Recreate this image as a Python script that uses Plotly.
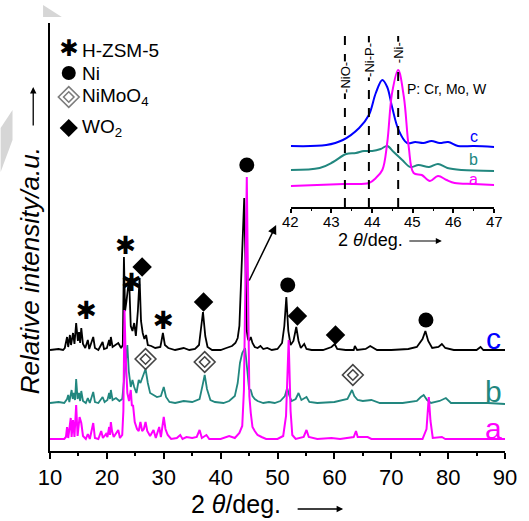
import plotly.graph_objects as go

# ---------------- main pattern data (2theta, offset intensity) ----------------
c_x = [10.0, 11.5, 12.3, 12.6, 13.0, 13.2, 13.5, 13.7, 14.05, 14.3, 14.6, 14.9, 15.1, 15.3, 15.5, 15.8, 16.2, 16.65, 16.9, 17.6, 17.9, 18.5, 19.25, 19.5, 20.0, 20.4, 20.55, 20.7, 21.0, 21.5, 22.0, 22.5, 22.8, 23.0, 23.2, 23.45, 23.9, 24.2, 24.5, 24.8, 25.1, 25.45, 25.75, 26.0, 26.3, 26.6, 26.9, 27.2, 27.8, 28.5, 29.4, 29.6, 29.85, 30.2, 30.8, 32.0, 33.5, 34.5, 35.5, 36.2, 36.5, 36.9, 37.3, 37.7, 38.5, 40.0, 41.0, 42.0, 42.6, 43.0, 43.3, 43.56, 43.85, 44.15, 44.4, 44.6, 44.8, 45.0, 45.3, 45.6, 46.0, 46.5, 47.0, 47.5, 48.2, 49.0, 50.0, 50.8, 51.2, 51.55, 51.9, 52.3, 52.8, 53.3, 53.7, 54.1, 54.7, 55.1, 56.0, 58.0, 59.5, 60.05, 60.5, 62.0, 63.4, 63.6, 64.0, 65.5, 66.3, 66.8, 67.5, 70.0, 73.0, 74.5, 75.5, 76.0, 76.5, 77.2, 78.3, 78.9, 79.5, 81.0, 85.0, 85.7, 86.2, 88.0, 90.0]
c_y = [101, 102, 101, 103, 114, 104, 116, 106, 118, 107, 128, 110, 119, 108, 123, 107, 103, 111, 102, 114, 103, 101, 109, 102, 103, 111, 105, 114, 104, 106, 108, 103, 106, 194, 140, 150, 173, 125, 120, 128, 115, 140, 173, 130, 118, 112, 116, 106, 105, 103, 104, 110, 118, 106, 103, 101, 103, 101, 102, 106, 118, 139, 115, 104, 101, 101, 103, 105, 108, 113, 125, 158, 208, 253, 170, 120, 112, 110, 114, 108, 104, 103, 105, 102, 103, 101, 102, 108, 125, 154, 120, 106, 110, 124, 110, 103, 107, 102, 101, 101, 104, 107, 102, 101, 101, 105, 101, 102, 105, 103, 101, 101, 102, 104, 112, 120, 110, 103, 104, 107, 103, 101, 101, 104, 101, 101, 101]

b_x = [10.0, 11.5, 12.5, 13.0, 13.2, 13.4, 13.8, 14.0, 14.2, 14.4, 14.6, 14.85, 15.1, 15.3, 15.5, 15.8, 16.3, 16.65, 17.0, 17.6, 17.9, 18.5, 19.25, 19.6, 20.1, 20.4, 20.55, 20.7, 21.0, 21.6, 22.2, 22.7, 23.0, 23.3, 23.6, 23.85, 24.2, 24.5, 24.8, 25.2, 25.6, 25.9, 26.3, 26.8, 27.2, 27.6, 28.2, 28.8, 29.5, 30.0, 30.4, 31.0, 32.0, 33.5, 35.0, 36.3, 36.8, 37.2, 37.6, 38.2, 39.0, 40.5, 41.5, 42.5, 43.0, 43.4, 43.8, 44.3, 44.7, 45.0, 45.3, 45.6, 46.0, 46.5, 47.5, 48.5, 49.5, 50.5, 51.3, 51.7, 52.1, 52.5, 53.2, 53.7, 54.2, 55.1, 55.6, 57.0, 60.0, 62.3, 63.1, 63.5, 64.1, 65.0, 66.5, 68.0, 72.0, 74.5, 75.2, 75.7, 76.3, 77.0, 78.5, 79.6, 80.5, 84.0, 87.0, 90.0]
b_y = [48, 49, 48, 52, 56, 49, 61, 52, 58, 51, 72, 52, 58, 50, 60, 50, 48, 53, 48, 59, 49, 48, 54, 49, 51, 58, 52, 61, 51, 53, 50, 52, 70, 90, 106, 80, 64, 71, 64, 58, 71, 68, 74, 82, 68, 58, 56, 54, 55, 64, 54, 49, 48, 50, 49, 52, 65, 76, 62, 51, 49, 48, 50, 55, 68, 88, 98, 103, 80, 62, 61, 55, 52, 50, 48, 49, 48, 50, 55, 63, 55, 50, 52, 58, 51, 54, 49, 48, 49, 52, 61, 55, 51, 50, 51, 48, 48, 50, 54, 56, 51, 48, 50, 53, 48, 48, 48, 47]

a_x = [10.0, 12.5, 12.8, 13.0, 13.2, 13.65, 13.8, 14.05, 14.3, 14.6, 14.85, 15.2, 15.5, 15.8, 16.3, 16.65, 17.0, 17.6, 17.9, 18.5, 19.0, 19.3, 19.85, 20.1, 20.4, 20.55, 20.7, 20.9, 21.2, 22.0, 22.3, 22.7, 22.9, 23.1, 23.3, 23.6, 23.9, 24.2, 24.4, 24.6, 24.9, 25.3, 25.6, 25.9, 26.2, 26.5, 26.8, 27.1, 27.6, 28.2, 28.6, 29.2, 29.5, 30.0, 30.3, 30.7, 31.3, 32.3, 32.9, 33.3, 34.0, 35.0, 35.8, 36.3, 36.7, 37.5, 38.0, 40.0, 41.5, 42.5, 43.3, 43.8, 44.1, 44.35, 44.6, 44.85, 45.05, 45.3, 45.6, 46.0, 46.5, 47.2, 48.0, 50.0, 51.0, 51.5, 51.96, 52.3, 52.6, 53.2, 54.6, 55.1, 55.5, 57.0, 59.5, 61.0, 63.4, 63.8, 64.1, 65.85, 66.5, 70.0, 75.5, 76.2, 76.6, 76.9, 77.3, 78.9, 79.5, 90.0]
a_y = [12, 12, 14, 24, 13, 33, 14, 31, 14, 46, 15, 34, 28, 15, 12, 17, 12, 28, 13, 12, 20, 13, 17, 14, 24, 16, 29, 20, 14, 21, 13, 16, 40, 141, 95, 58, 50, 61, 45, 46, 29, 22, 20, 29, 20, 22, 29, 20, 15, 21, 13, 24, 14, 34, 22, 16, 12, 13, 16, 12, 14, 13, 14, 21, 13, 16, 12, 12, 15, 13, 18, 25, 61, 180, 274, 150, 55, 38, 24, 20, 16, 14, 12, 12, 15, 35, 111, 40, 16, 12, 14, 21, 14, 12, 13, 12, 14, 20, 14, 14, 12, 12, 12, 22, 54, 30, 13, 14, 12, 12]

# ---------------- inset data (42-47 deg) ----------------
ic_x = [42.0, 42.87, 43.28, 43.68, 43.92, 44.09, 44.25, 44.37, 44.49, 44.65, 44.86, 45.06, 45.26, 45.46, 45.66, 45.87, 46.11, 46.5, 47.0]
ic_y = [61, 62, 67, 79, 92, 114, 127, 120, 100, 77, 64, 65, 64, 66, 64, 65, 61, 61, 60]
ib_x = [42.0, 42.71, 43.04, 43.36, 43.6, 43.8, 44.0, 44.21, 44.37, 44.53, 44.74, 44.94, 45.14, 45.4, 45.62, 45.85, 46.2, 47.0]
ib_y = [37, 39, 45, 53, 54, 56, 56, 58, 61, 55, 47, 40, 42, 40, 43, 39, 37, 36]
ia_x = [42.0, 43.3, 43.92, 44.09, 44.25, 44.37, 44.49, 44.64, 44.78, 44.9, 45.02, 45.22, 45.42, 45.62, 45.83, 46.03, 46.5, 47.0]
ia_y = [21, 23, 24, 29, 37, 64, 114, 137, 110, 60, 34, 32, 26, 31, 27, 24, 23, 22]
inset_ticks = [42, 43, 44, 45, 46, 47]

ref_x = [43.33, 43.92, 44.64]
ref_names = ["-NiO-", "-Ni-P-", "-Ni-"]
ref_label_y = [130, 147, 154]

# ---------------- phase markers ----------------
zsm_x = [16.4, 23.3, 24.35, 29.97]
zsm_y = [138, 203, 166, 128]
ni_x = [44.6, 51.8, 76.1]
ni_y = [286, 166, 131]
nimo_x = [26.8, 37.2, 63.25]
nimo_y = [92, 89, 76]
wo2_x = [26.2, 37.0, 53.5, 60.2]
wo2_y = [184, 149, 135, 116]

BLACK = "#000000"
TEAL = "#22877f"
MAG = "#ff00ff"
BLUE = "#0000ff"
FONT = "Liberation Sans, Arial, sans-serif"

fig = go.Figure()
fig.add_trace(go.Scatter(x=c_x, y=c_y, mode="lines", line=dict(color=BLACK, width=1.8), showlegend=False))
fig.add_trace(go.Scatter(x=b_x, y=b_y, mode="lines", line=dict(color=TEAL, width=1.8), showlegend=False))
fig.add_trace(go.Scatter(x=a_x, y=a_y, mode="lines", line=dict(color=MAG, width=2), showlegend=False))

# markers in the main panel
fig.add_trace(go.Scatter(x=zsm_x, y=zsm_y, mode="text", text=["✱"] * len(zsm_x),
                         textfont=dict(size=25, color=BLACK, family="DejaVu Sans"), showlegend=False))
fig.add_trace(go.Scatter(x=ni_x, y=ni_y, mode="markers", marker=dict(symbol="circle", size=15, color=BLACK), showlegend=False))
fig.add_trace(go.Scatter(x=wo2_x, y=wo2_y, mode="markers", marker=dict(symbol="diamond", size=15, color=BLACK), showlegend=False))
fig.add_trace(go.Scatter(x=nimo_x, y=nimo_y, mode="markers",
                         marker=dict(symbol="diamond-open", size=16, color="#444444", line=dict(width=1.6)), showlegend=False))
fig.add_trace(go.Scatter(x=nimo_x, y=nimo_y, mode="markers",
                         marker=dict(symbol="diamond-open", size=8, color="#444444", line=dict(width=1.6)), showlegend=False))

# legend (drawn by hand, top left)
leg_x = 13.3
fig.add_trace(go.Scatter(x=[leg_x], y=[401], mode="text", text=["✱"],
                         textfont=dict(size=23, color=BLACK, family="DejaVu Sans"), showlegend=False))
fig.add_trace(go.Scatter(x=[leg_x], y=[378], mode="markers", marker=dict(symbol="circle", size=14, color=BLACK), showlegend=False))
fig.add_trace(go.Scatter(x=[leg_x, leg_x], y=[354, 354], mode="markers",
                         marker=dict(symbol="diamond-open", size=[16, 8], color="#444444", line=dict(width=1.6)), showlegend=False))
fig.add_trace(go.Scatter(x=[leg_x], y=[323], mode="markers", marker=dict(symbol="diamond", size=14, color=BLACK), showlegend=False))

leg_labels = ["H-ZSM-5", "Ni", "NiMoO<sub>4</sub>", "WO<sub>2</sub>"]
leg_y = [401, 378, 354, 323]
annotations = []
for t, yy in zip(leg_labels, leg_y):
    annotations.append(dict(x=15.2, y=yy, xref="x", yref="y", text=t, showarrow=False,
                            xanchor="left", yanchor="middle", font=dict(size=19, color=BLACK, family=FONT)))

# series labels main
for t, yy, col in [("c", 113, BLUE), ("b", 60, TEAL), ("a", 23, MAG)]:
    annotations.append(dict(x=87.9, y=yy, xref="x", yref="y", text=t, showarrow=False,
                            xanchor="center", yanchor="middle", font=dict(size=30, color=col, family=FONT)))

# pointer arrow to inset
annotations.append(dict(x=49.76, y=226, ax=44.9, ay=169, xref="x", yref="y", axref="x", ayref="y",
                        text="", showarrow=True, arrowhead=2, arrowsize=1.2, arrowwidth=1.5, arrowcolor=BLACK))

# main axis titles
annotations.append(dict(x=(238.5 - 50) / 461, y=(451 - 504) / 428, xref="paper", yref="paper",
                        text="2 <i>θ</i>/deg.", showarrow=False, xanchor="center", yanchor="middle",
                        font=dict(size=25, color=BLACK, family=FONT)))
annotations.append(dict(x=(347 - 50) / 461, y=(451 - 509) / 428, xref="paper", yref="paper",
                        ax=-47, ay=0, text="", showarrow=True, arrowhead=2, arrowsize=1, arrowwidth=1.3, arrowcolor=BLACK))
annotations.append(dict(x=(30 - 50) / 461, y=(451 - 271) / 428, xref="paper", yref="paper",
                        text="<i>Relative intensity/a.u.</i>", textangle=-90, showarrow=False,
                        xanchor="center", yanchor="middle", font=dict(size=26, color=BLACK, family=FONT)))
annotations.append(dict(x=(33 - 50) / 461, y=(451 - 87) / 428, xref="paper", yref="paper",
                        ax=0, ay=40, text="", showarrow=True, arrowhead=2, arrowsize=1, arrowwidth=1.3, arrowcolor=BLACK))

# ---------------- inset traces ----------------
for xs, ys, col in [(ic_x, ic_y, BLUE), (ib_x, ib_y, TEAL), (ia_x, ia_y, MAG)]:
    fig.add_trace(go.Scatter(x=xs, y=ys, mode="lines", line=dict(color=col, width=2, shape="spline"),
                             xaxis="x2", yaxis="y2", showlegend=False))
for rx in ref_x:
    fig.add_trace(go.Scatter(x=[rx, rx], y=[0, 180], mode="lines", line=dict(color=BLACK, width=2, dash="dash"),
                             xaxis="x2", yaxis="y2", showlegend=False))
for rx, nm, ly in zip(ref_x, ref_names, ref_label_y):
    annotations.append(dict(x=rx, y=ly, xref="x2", yref="y2", text=nm, textangle=-90, showarrow=False,
                            bgcolor="white", borderpad=0, font=dict(size=13, color=BLACK, family=FONT)))
annotations.append(dict(x=44.82, y=118, xref="x2", yref="y2", text="P: Cr, Mo, W", showarrow=False,
                        xanchor="left", yanchor="middle", font=dict(size=14, color=BLACK, family=FONT)))
for t, yy, col in [("c", 71, BLUE), ("b", 48, TEAL), ("a", 28, MAG)]:
    annotations.append(dict(x=46.5, y=yy, xref="x2", yref="y2", text=t, showarrow=False,
                            xanchor="center", yanchor="middle", font=dict(size=16, color=col, family=FONT)))
# inset tick labels placed by hand (closer to the axis than plotly's default)
for tv in inset_ticks:
    annotations.append(dict(x=tv, y=(451 - 221) / 428, xref="x2", yref="paper", text=str(tv), showarrow=False,
                            xanchor="center", yanchor="middle", font=dict(size=15, color=BLACK, family=FONT)))
annotations.append(dict(x=(375 - 50) / 461, y=(451 - 240) / 428, xref="paper", yref="paper",
                        text="2 <i>θ</i>/deg.", showarrow=False, xanchor="center", yanchor="middle",
                        font=dict(size=18, color=BLACK, family=FONT)))
annotations.append(dict(x=(447 - 50) / 461, y=(451 - 241) / 428, xref="paper", yref="paper",
                        ax=-34, ay=0, text="", showarrow=True, arrowhead=2, arrowsize=1, arrowwidth=1.2, arrowcolor=BLACK))

# faint watermark shapes
shapes = [
    dict(type="path", xref="paper", yref="paper", layer="below", line=dict(width=0), fillcolor="#d6d6d6",
         path="M {:.4f},{:.4f} L {:.4f},{:.4f} L {:.4f},{:.4f} Z".format(
             (43 - 50) / 461, (451 - 5) / 428, (43 - 50) / 461, (451 - 17) / 428, (62 - 50) / 461, (451 - 17) / 428)),
    dict(type="path", xref="paper", yref="paper", layer="below", line=dict(width=0), fillcolor="#d6d6d6",
         path="M {:.4f},{:.4f} L {:.4f},{:.4f} L {:.4f},{:.4f} L {:.4f},{:.4f} Z".format(
             (0 - 50) / 461, (451 - 128) / 428, (12 - 50) / 461, (451 - 110) / 428,
             (12 - 50) / 461, (451 - 140) / 428, (0 - 50) / 461, (451 - 172) / 428)),
]

fig.update_layout(
    width=529, height=521,
    margin=dict(l=50, r=18, t=23, b=70),
    paper_bgcolor="white", plot_bgcolor="rgba(0,0,0,0)",
    font=dict(family=FONT, color=BLACK),
    showlegend=False,
    xaxis=dict(range=[10, 90], domain=[0, 1], showline=True, linecolor=BLACK, linewidth=1.5,
               ticks="outside", ticklen=6, tickwidth=1.5, tickcolor=BLACK, dtick=10, tick0=10,
               minor=dict(dtick=5, ticks="outside", ticklen=3, tickwidth=1.5, tickcolor=BLACK),
               tickfont=dict(size=22, color=BLACK, family=FONT), showgrid=False, zeroline=False),
    yaxis=dict(range=[0, 428], domain=[0, 1], showline=True, linecolor=BLACK, linewidth=1.5,
               showticklabels=False, ticks="", showgrid=False, zeroline=False),
    xaxis2=dict(range=[42, 47], domain=[(294 - 50) / 461, (500 - 50) / 461], anchor="y2",
                showline=True, linecolor=BLACK, linewidth=1.5, ticks="outside", ticklen=4, tickwidth=1.5,
                tickcolor=BLACK, dtick=1, showticklabels=False,
                minor=dict(dtick=0.5, ticks="outside", ticklen=2.5, tickwidth=1.2, tickcolor=BLACK),
                showgrid=False, zeroline=False),
    yaxis2=dict(range=[0, 180], domain=[(451 - 207) / 428, (451 - 27) / 428], anchor="x2",
                visible=False, showgrid=False, zeroline=False),
    annotations=annotations,
    shapes=shapes,
)

fig.write_html("out.html")
